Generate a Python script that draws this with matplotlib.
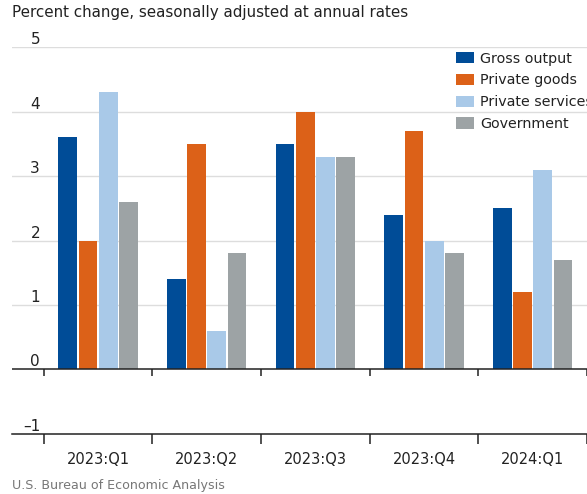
import numpy as np
import matplotlib.pyplot as plt
from matplotlib import transforms

plt.rcParams['font.family'] = 'DejaVu Sans'

quarters = ['2023:Q1', '2023:Q2', '2023:Q3', '2023:Q4', '2024:Q1']
series = ['Gross output', 'Private goods', 'Private services', 'Government']
gross_output = [3.6, 1.4, 3.5, 2.4, 2.5]
private_goods = [2.0, 3.5, 4.0, 3.7, 1.2]
private_services = [4.3, 0.6, 3.3, 2.0, 3.1]
government = [2.6, 1.8, 3.3, 1.8, 1.7]
y_ticks = [-1, 0, 1, 2, 3, 4, 5]

colors = ['#004C97', '#DC6118', '#A9C9E8', '#9DA3A5']
text_color = '#222222'

fig = plt.figure(figsize=(5.87, 4.94), dpi=100)
ax = fig.add_axes([12 / 587, 1 - 433.7 / 494, 1 - 12 / 587, (433.7 - 47.3) / 494])

x = np.arange(len(quarters))
step = 0.186
width = 0.173
for i, (vals, name) in enumerate(zip([gross_output, private_goods, private_services, government], series)):
    ax.bar(x + (i - 1.5) * step, vals, width, color=colors[i], label=name, zorder=3)

ax.set_xlim(-0.792, 4.435)
ax.set_ylim(-1, 5)

# light gridlines, dark zero and base lines
for y in y_ticks:
    if y > 0:
        ax.axhline(y, color='#DDDDDD', lw=1.0, zorder=1)
ax.axhline(0, color=text_color, lw=1.1, zorder=4)

for s in ['top', 'right', 'left']:
    ax.spines[s].set_visible(False)
ax.spines['bottom'].set_color(text_color)
ax.spines['bottom'].set_linewidth(1.1)

# quarter labels centred, ticks at the group boundaries
bounds = np.arange(len(quarters) + 1) - 0.5
ax.set_xticks(x)
ax.set_xticklabels(quarters, fontsize=10.5, color=text_color)
ax.tick_params(axis='x', which='major', length=0, pad=13)
ax.set_xticks(bounds, minor=True)
ax.tick_params(axis='x', which='minor', length=7, width=1.1, color=text_color, direction='out')
ax.vlines(bounds, -0.11, 0, color=text_color, lw=1.1, zorder=4)

ax.set_yticks([])
ytrans = transforms.blended_transform_factory(fig.transFigure, ax.transData)
for y in y_ticks:
    lab = str(y).replace('-', '\u2013')
    ax.text(40 / 587, y, lab, transform=ytrans, ha='right', va='bottom',
            fontsize=11, color=text_color)

fig.text(12 / 587, 1 - 13 / 494, 'Percent change, seasonally adjusted at annual rates',
         ha='left', va='center', fontsize=10.9, color=text_color)
fig.text(12 / 587, 1 - 485 / 494, 'U.S. Bureau of Economic Analysis',
         ha='left', va='center', fontsize=9.1, color='#777777')

ax.legend(loc='upper left', bbox_to_anchor=(456 / 587, 1 - 51.5 / 494), bbox_transform=fig.transFigure,
          frameon=False, fontsize=10.3, handlelength=1.25, handleheight=0.85, handletextpad=0.45,
          labelspacing=0.55, borderpad=0, borderaxespad=0, labelcolor=text_color)

plt.savefig('out.png', dpi=100)
